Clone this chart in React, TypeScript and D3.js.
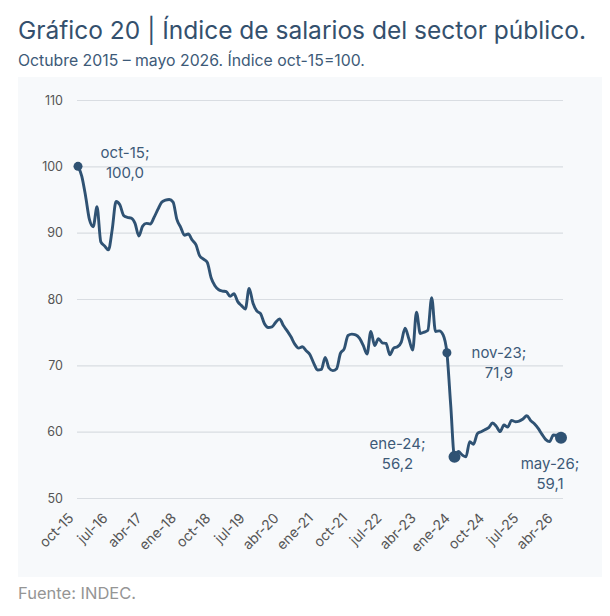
import { useEffect, useRef } from 'react';
import * as d3 from 'd3';

// Monthly index, oct-15 = 100 (oct-15 ... may-26)
const monthNames = ["ene", "feb", "mar", "abr", "may", "jun", "jul", "ago", "sep", "oct", "nov", "dic"];
const months: string[] = [];
for (let k = 0; k < 128; k++) {
    const m = (9 + k) % 12;
    const yy = 15 + Math.floor((9 + k) / 12);
    months.push(`${monthNames[m]}-${yy}`);
}

const salaryIndex = [
    100.0, 98.5, 95.5, 92.0, 90.9, 93.9, 88.6, 88.0, 87.4, 90.5,
    94.7, 94.2, 92.6, 92.3, 92.2, 91.4, 89.5, 91.0, 91.4, 91.3,
    92.3, 93.5, 94.6, 94.9, 95.0, 94.6, 92.0, 90.8, 89.6, 89.8,
    88.9, 88.2, 86.5, 86.0, 85.5, 83.2, 82.0, 81.4, 81.2, 81.1,
    80.4, 80.8, 79.6, 79.0, 78.5, 81.6, 79.4, 78.2, 77.8, 76.3,
    75.7, 75.8, 76.5, 77.0, 76.0, 75.2, 74.3, 73.2, 72.6, 72.8,
    72.2, 71.6, 70.3, 69.3, 69.4, 71.2, 69.6, 69.2, 69.5, 71.8,
    72.5, 74.5, 74.7, 74.6, 74.1, 73.0, 71.7, 75.1, 73.0, 74.0,
    73.4, 73.3, 71.6, 72.6, 72.8, 73.5, 75.6, 74.0, 72.3, 78.0,
    74.8, 75.0, 75.3, 80.2, 75.1, 75.2, 74.6, 71.9, 64.0, 56.2,
    57.0, 56.5, 56.2, 58.5, 58.1, 59.7, 60.0, 60.3, 60.6, 61.3,
    60.8, 60.0, 61.0, 60.7, 61.7, 61.5, 61.6, 61.9, 62.4, 61.7,
    61.2, 60.5, 59.6, 58.8, 58.5, 59.5, 59.4, 59.1
];

const xTickLabels = ["oct-15", "jul-16", "abr-17", "ene-18", "oct-18", "jul-19", "abr-20", "ene-21",
    "oct-21", "jul-22", "abr-23", "ene-24", "oct-24", "jul-25", "abr-26"];
const yTicks = [50, 60, 70, 80, 90, 100, 110];

const highlights = [
    { month: "oct-15", value: "100,0", r: 4.5, dx: 47, dy: -8 },
    { month: "nov-23", value: "71,9", r: 4.5, dx: 52, dy: 5 },
    { month: "ene-24", value: "56,2", r: 6, dx: -57, dy: -8 },
    { month: "may-26", value: "59,1", r: 6, dx: -11, dy: 31 },
];

const FONT = "Inter, 'Open Sans', sans-serif";
const LINE = "#2f5273";
const TEXT = "#3d5a78";

export default function App() {
    const ref = useRef<SVGSVGElement>(null);

    useEffect(() => {
        if (!ref.current) return;
        const svg = d3.select(ref.current);
        svg.selectAll("*").remove();

        const width = 610;
        const height = 616;

        svg.attr("width", width).attr("height", height)
            .style("font-family", FONT);

        svg.append("rect").attr("width", width).attr("height", height).attr("fill", "#ffffff");

        // Panel
        svg.append("rect")
            .attr("x", 18).attr("y", 77)
            .attr("width", 584).attr("height", 500)
            .attr("fill", "#f7f9fb");

        // Titles
        svg.append("text")
            .attr("x", 18).attr("y", 39)
            .attr("fill", "#34506d")
            .style("font-size", "24.5px")
            .text("Gráfico 20 | Índice de salarios del sector público.");

        svg.append("text")
            .attr("x", 18).attr("y", 66)
            .attr("fill", TEXT)
            .style("font-size", "15.8px")
            .text("Octubre 2015 – mayo 2026. Índice oct-15=100.");

        svg.append("text")
            .attr("x", 18).attr("y", 599)
            .attr("fill", "#959595")
            .style("font-size", "16.5px")
            .text("Fuente: INDEC.");

        const x = d3.scalePoint<string>().domain(months).range([78, 561]);
        const y = d3.scaleLinear().domain([50, 110]).range([498, 100]);

        // Gridlines + y labels
        const yAxis = svg.append("g")
            .attr("transform", `translate(77,0)`)
            .call(d3.axisLeft(y).tickValues(yTicks).tickSize(-486).tickPadding(14).tickFormat(d3.format("d")))
            .call(g => g.select(".domain").remove());
        yAxis.selectAll("line").attr("stroke", "#d9dde2").attr("stroke-width", 1.2);
        yAxis.selectAll("text")
            .attr("fill", "#555")
            .style("font-size", "12.5px")
            .style("font-family", FONT);

        // X labels
        const xAxis = svg.append("g")
            .attr("transform", `translate(0,498)`)
            .call(d3.axisBottom(x).tickValues(xTickLabels).tickSize(0).tickPadding(0))
            .call(g => g.select(".domain").remove());
        xAxis.selectAll("text")
            .attr("fill", "#555")
            .style("font-size", "14px")
            .style("font-family", FONT)
            .style("text-anchor", "end")
            .attr("dy", null)
            .attr("y", 0)
            .attr("transform", "translate(-4,21) rotate(-45)");

        // Line
        const line = d3.line<number>()
            .x((d, i) => x(months[i]) || 0)
            .y(d => y(d))
            .curve(d3.curveMonotoneX);

        svg.append("path")
            .datum(salaryIndex)
            .attr("fill", "none")
            .attr("stroke", LINE)
            .attr("stroke-width", 2.9)
            .attr("stroke-linejoin", "round")
            .attr("d", line);

        // Highlighted points
        highlights.forEach(h => {
            const i = months.indexOf(h.month);
            const cx = x(h.month) || 0;
            const cy = y(salaryIndex[i]);
            svg.append("circle")
                .attr("cx", cx).attr("cy", cy).attr("r", h.r)
                .attr("fill", LINE);
            const t = svg.append("text")
                .attr("text-anchor", "middle")
                .attr("fill", TEXT)
                .style("font-size", "15px");
            t.append("tspan").attr("x", cx + h.dx).attr("y", cy + h.dy).text(`${h.month};`);
            t.append("tspan").attr("x", cx + h.dx).attr("y", cy + h.dy + 20).text(h.value);
        });
    }, []);

    return (
        <svg ref={ref} style={{ position: "absolute", top: 0, left: 0 }}></svg>
    );
}
